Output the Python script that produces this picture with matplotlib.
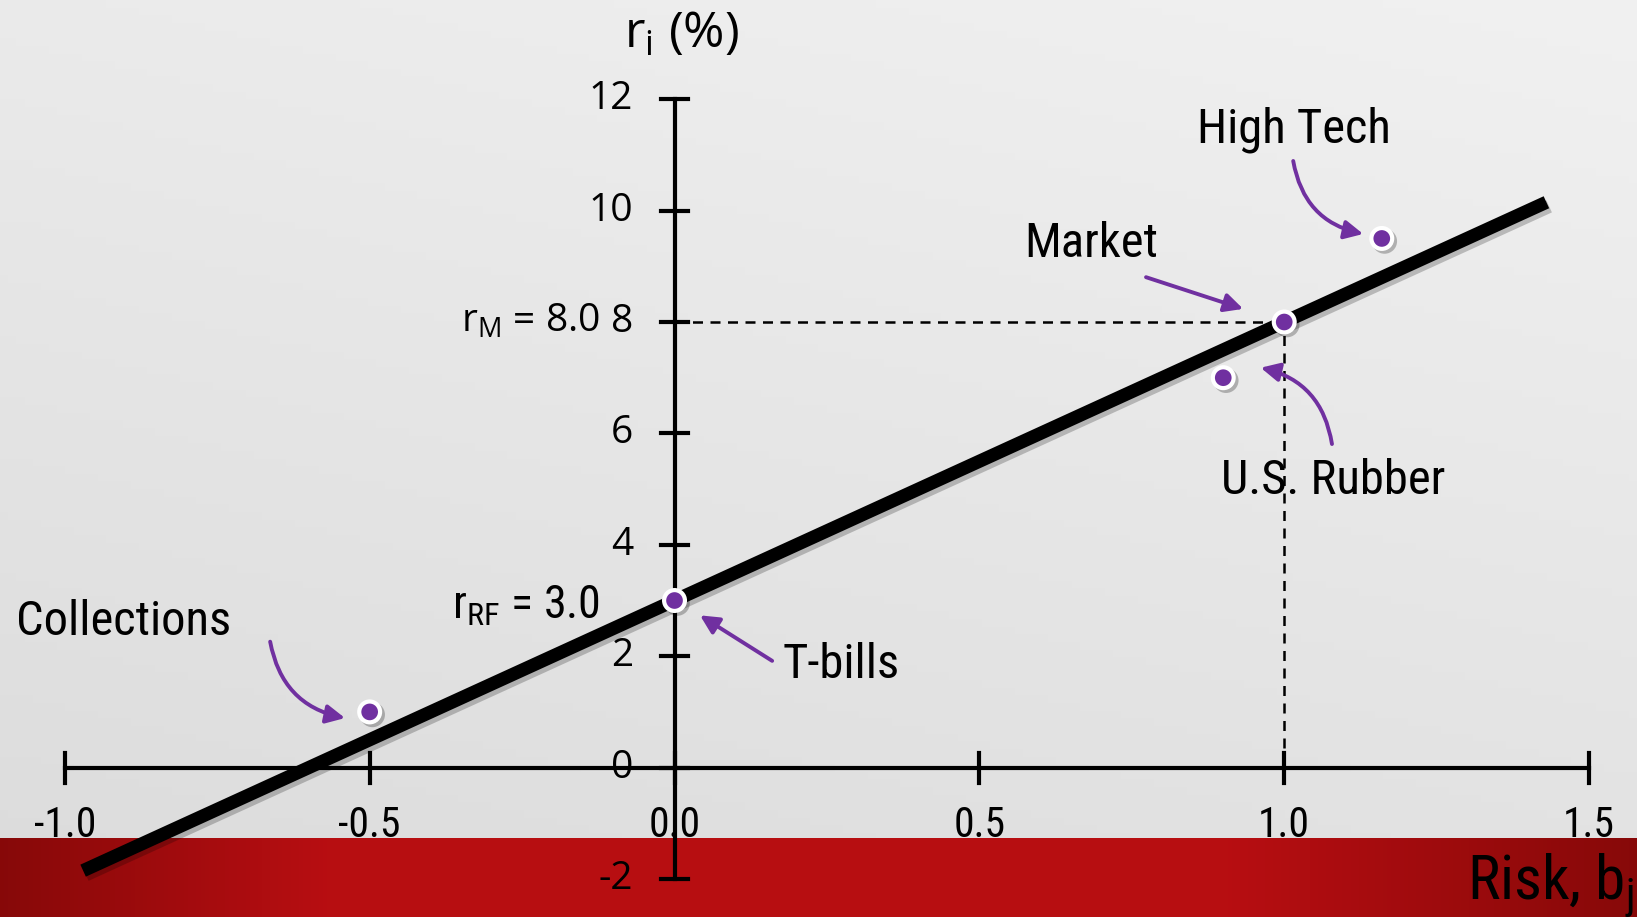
import matplotlib.pyplot as plt
import matplotlib.patheffects as pe
import numpy as np

# security market line data
rf = 3.0
rm = 8.0
beta_range = [-0.97, 1.43]

names = ['Collections', 'T-bills', 'U.S. Rubber', 'Market', 'High Tech']
betas = [-0.5, 0.0, 0.9, 1.0, 1.16]
returns = [1.0, 3.0, 7.0, 8.0, 9.5]

x_ticks = [-1.0, -0.5, 0.0, 0.5, 1.0, 1.5]
x_labels = ['-1.0', '-0.5', '0.0', '0.5', '1.0', '1.5']
y_ticks = [-2, 0, 2, 4, 6, 8, 10, 12]

purple = '#7030a0'
narrow = ['Roboto Condensed', 'Roboto', 'DejaVu Sans']
plain = ['Open Sans', 'DejaVu Sans']

fig = plt.figure(figsize=(16.37, 9.17), dpi=100)
ax = fig.add_axes([0, 0, 1, 1])
x0, x1 = -1.1063, 1.5786
y0, y1 = -2.682, 13.781
ax.set_xlim(x0, x1)
ax.set_ylim(y0, y1)
ax.axis('off')

# grey backdrop, lighter towards the top right
gx, gy = np.meshgrid(np.linspace(0, 1, 200), np.linspace(0, 1, 120))
shade = 0.86 + 0.06 * gy + 0.025 * gx
bg = np.dstack([shade, shade, shade])
ax.imshow(bg, extent=[x0, x1, y0, y1], origin='lower', aspect='auto', zorder=0)

# red band along the bottom
band_top = -1.264
t = np.linspace(0, 1, 400)
dark = np.clip(np.minimum(t / 0.2, (1 - t) / 0.25), 0, 1)
r = 0.53 + 0.19 * dark
g = 0.035 + 0.02 * dark
b = 0.035 + 0.035 * dark
band = np.dstack([r, g, b]).repeat(2, axis=0)
ax.imshow(band, extent=[x0, x1, y0, band_top], aspect='auto', zorder=1)

# axes drawn by hand
ax.plot([x_ticks[0], x_ticks[-1]], [0, 0], color='k', lw=3, zorder=3)
ax.plot([0, 0], [y_ticks[0], y_ticks[-1]], color='k', lw=3, zorder=3)
for xt in x_ticks:
    ax.plot([xt, xt], [-0.27, 0.27], color='k', lw=3, zorder=3)
for yt in y_ticks:
    ax.plot([-0.022, 0.022], [yt, yt], color='k', lw=3, zorder=3)

for xt, lab in zip(x_ticks, x_labels):
    ax.text(xt, -1.04, lab, ha='center', va='center', fontsize=30,
            family=narrow, zorder=4)
for yt in y_ticks:
    ax.text(-0.068, yt, str(yt), ha='right', va='center', fontsize=28,
            family=plain, zorder=4)

ax.text(0.012, 13.15, r'r$_\mathregular{i}$ (%)', ha='center', va='center',
        fontsize=36, family=plain)
ax.text(x1 - 0.005, -2.12, r'Risk, b$_\mathregular{j}$', ha='right',
        va='center', fontsize=44, family=narrow)

# dashed guides to the market portfolio
ax.plot([0, 1.0], [rm, rm], color='k', lw=1.8, ls=(0, (4, 3)), zorder=3)
ax.plot([1.0, 1.0], [-0.27, rm], color='k', lw=1.8, ls=(0, (4, 3)), zorder=3)

# SML
sml_x = np.array(beta_range)
sml_y = rf + (rm - rf) * sml_x
ax.plot(sml_x, sml_y, color='k', lw=9.5, solid_capstyle='butt', zorder=5,
        path_effects=[pe.SimpleLineShadow(offset=(2, -3), alpha=0.22),
                      pe.Normal()])

ax.plot(betas, returns, 'o', ms=15, mfc=purple, mec='white', mew=3,
        zorder=6, path_effects=[pe.SimpleLineShadow(offset=(2, -2), alpha=0.25),
                                pe.Normal()])

ax.text(-0.122, rm, r'r$_\mathregular{M}$ = 8.0', ha='right', va='center',
        fontsize=28, family=plain, zorder=4)
ax.text(-0.122, 2.9, r'r$_\mathregular{RF}$ = 3.0', ha='right', va='center',
        fontsize=33, family=narrow, zorder=4)

# labels with arrows
label_pos = {'Collections': (-1.08, 2.62), 'T-bills': (0.178, 1.85),
             'U.S. Rubber': (0.897, 5.15), 'Market': (0.574, 9.4),
             'High Tech': (0.857, 11.45)}
arrow_from = {'Collections': (-0.664, 2.31), 'T-bills': (0.164, 1.89),
              'U.S. Rubber': (1.079, 5.76), 'Market': (0.769, 8.82),
              'High Tech': (1.014, 10.94)}
arrow_to = {'Collections': (-0.536, 0.88), 'T-bills': (0.038, 2.76),
            'U.S. Rubber': (0.957, 7.19), 'Market': (0.937, 8.22),
            'High Tech': (1.134, 9.57)}
bend = {'Collections': 0.35, 'T-bills': 0.0, 'U.S. Rubber': 0.35,
        'Market': 0.0, 'High Tech': 0.35}

for name in names:
    lx, ly = label_pos[name]
    ax.text(lx, ly, name, ha='left', va='center', fontsize=35,
            family=narrow, zorder=4)
    ax.annotate('', xy=arrow_to[name], xytext=arrow_from[name],
                arrowprops=dict(arrowstyle='-|>', color=purple, lw=2.8,
                                mutation_scale=28,
                                connectionstyle='arc3,rad=%s' % bend[name]),
                zorder=4)

fig.savefig('out.png', dpi=100)
